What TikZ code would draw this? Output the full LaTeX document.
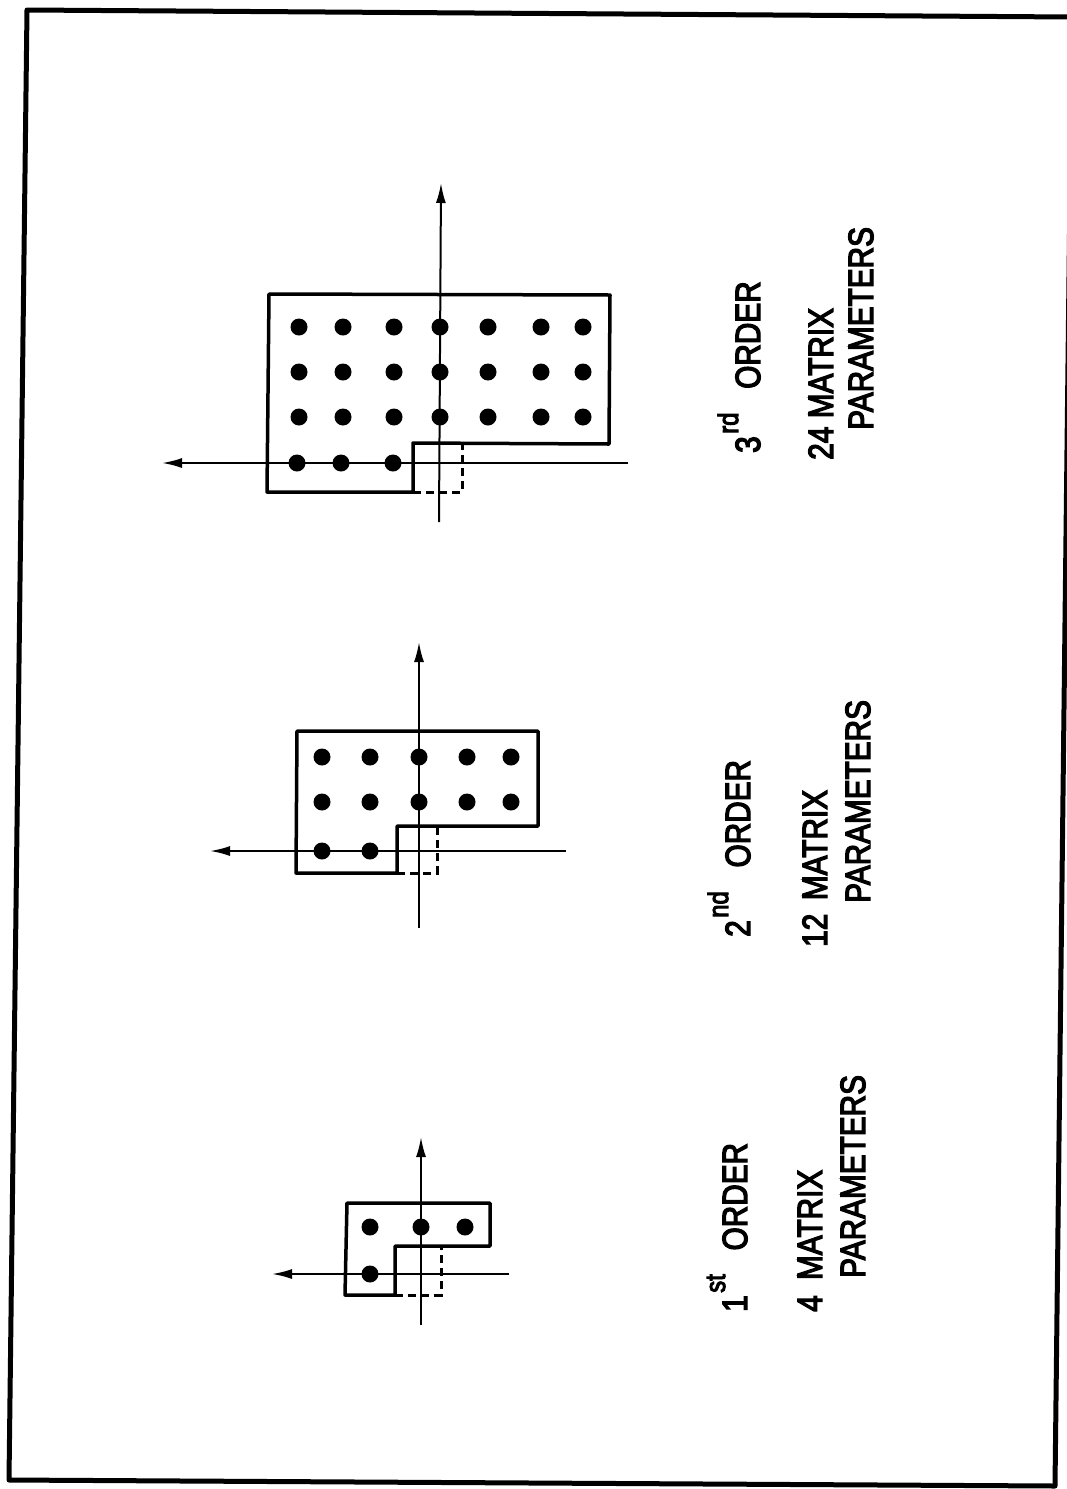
\documentclass[tikz,border=0pt]{standalone}
\usepackage{fontspec}
\setmainfont{Liberation Sans}
\newfontfamily\lettering[FakeBold=4]{Liberation Sans}
\usepackage{graphicx}
\usetikzlibrary{arrows.meta}

\begin{document}
\begin{tikzpicture}[x=1pt,y=-1pt,
  frame/.style={line width=5pt, line join=round},
  region/.style={line width=3.5pt, line join=round},
  hole/.style={line width=3pt, dash pattern=on 8pt off 5pt},
  axis/.style={line width=2pt, -{Latex[length=20pt,width=10pt]}},
  pt/.style={circle, fill, inner sep=0pt, minimum size=17pt},
  lbl/.style={rotate=90, anchor=base west, inner sep=0pt,
              font=\lettering\fontsize{35}{42}\selectfont},
]
\useasboundingbox (0,0) rectangle (1066,1489);

% outer border
\draw[frame] (27,10) -- (1072,17) -- (1055,1486) -- (9,1480) -- cycle;

% ---------- first order ----------
\coordinate (v1s) at (421,1325);
\coordinate (v1e) at (421,1137);
\coordinate (h1s) at (509,1274);
\coordinate (h1e) at (272,1274);
\draw[axis] (v1s) -- (v1e);
\draw[axis] (h1s) -- (h1e);
\draw[region] (347,1203) -- (490,1203) -- (490,1246) -- (395,1246)
  -- (395,1295) -- (345,1295) -- cycle;
\draw[hole] (395,1295) -- (441,1295) -- (441,1246);
\foreach \x/\n in {370/a,421/b,465/c}
  \node[pt] (d1-1\n) at (\x,1227) {};
\node[pt] (d1-0a) at (370,1274) {};

% ---------- second order ----------
\coordinate (v2s) at (419,928);
\coordinate (v2e) at (419,642);
\coordinate (h2s) at (566,851);
\coordinate (h2e) at (210,851);
\draw[axis] (v2s) -- (v2e);
\draw[axis] (h2s) -- (h2e);
\draw[region] (297,731) -- (538,731) -- (538,826) -- (397,826)
  -- (397,873) -- (296,873) -- cycle;
\draw[hole] (397,873) -- (437,873) -- (437,826);
\foreach \y/\r in {757/2,802/1}
  \foreach \x/\n in {322/a,370/b,419/c,467/d,511/e}
    \node[pt] (d2-\r\n) at (\x,\y) {};
\foreach \x/\n in {322/a,370/b}
  \node[pt] (d2-0\n) at (\x,851) {};

% ---------- third order ----------
\coordinate (v3s) at (439,522);
\coordinate (v3e) at (441,183);
\coordinate (h3s) at (628,463);
\coordinate (h3e) at (162,463);
\draw[axis] (v3s) -- (v3e);
\draw[axis] (h3s) -- (h3e);
\draw[region] (269,294) -- (610,295) -- (609,444) -- (413,443)
  -- (413,492) -- (267,492) -- cycle;
\draw[hole] (413,492) -- (462,492) -- (462,444);
\foreach \y/\r in {327/3,372/2,417/1}
  \foreach \x/\n in {299/a,343/b,394/c,440/d,488/e,541/f,583/g}
    \node[pt] (d3-\r\n) at (\x,\y) {};
\foreach \x/\n in {297/a,341/b,393/c}
  \node[pt] (d3-0\n) at (\x,463) {};

% ---------- labels ----------
\node[lbl] (o1) at (747,1312)
  {\scalebox{0.85}[1]{1\hspace{3pt}\raisebox{22pt}{\fontsize{28}{28}\selectfont st}\hspace{28pt}ORDER}};
\node[lbl] (m1) at (822,1312) {\scalebox{0.85}[1]{4\hspace{18pt}MATRIX}};
\node[lbl] (p1) at (865,1278) {\scalebox{0.85}[1]{PARAMETERS}};

\node[lbl] (o2) at (750,937)
  {\scalebox{0.85}[1]{2\hspace{3pt}\raisebox{22pt}{\fontsize{28}{28}\selectfont nd}\hspace{28pt}ORDER}};
\node[lbl] (m2) at (827,947) {\scalebox{0.85}[1]{12\hspace{16pt}MATRIX}};
\node[lbl] (p2) at (870,903) {\scalebox{0.85}[1]{PARAMETERS}};

\node[lbl] (o3) at (760,453)
  {\scalebox{0.85}[1]{3\hspace{3pt}\raisebox{22pt}{\fontsize{28}{28}\selectfont rd}\hspace{28pt}ORDER}};
\node[lbl] (m3) at (833,460) {\scalebox{0.85}[1]{24\hspace{10pt}MATRIX}};
\node[lbl] (p3) at (873,430) {\scalebox{0.85}[1]{PARAMETERS}};
\end{tikzpicture}
\end{document}
